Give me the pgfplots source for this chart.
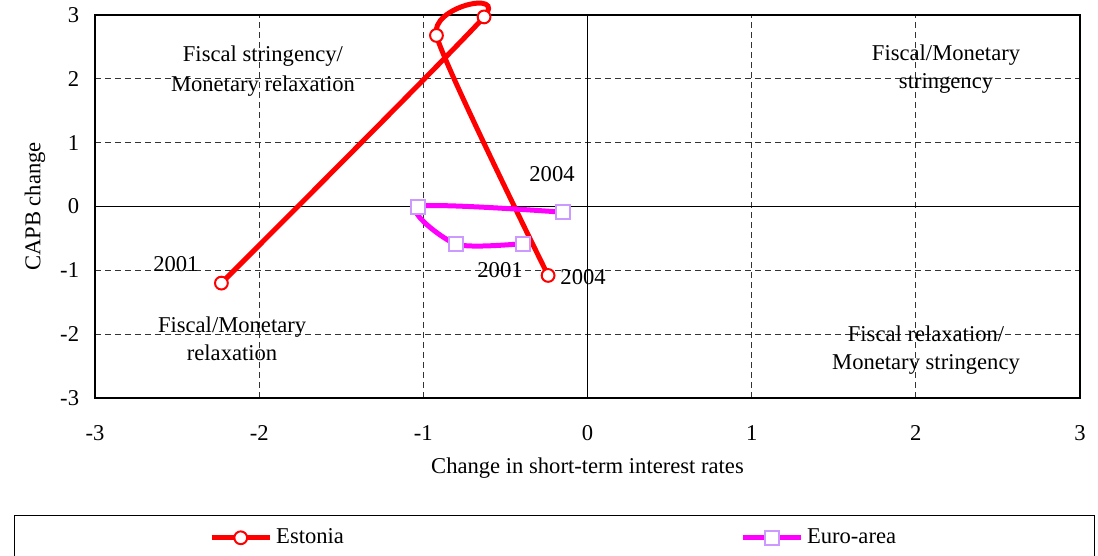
\documentclass[border=0pt]{standalone}
\usepackage{pgfplots}
\pgfplotsset{compat=1.18}
\usepackage{fontspec}
\setmainfont{Liberation Serif}
\definecolor{estred}{HTML}{FF0000}
\definecolor{euromag}{HTML}{FF00FF}
\definecolor{eurolil}{HTML}{CC99FF}
\begin{document}
\fontsize{11.3}{14}\selectfont
\begin{tikzpicture}
\begin{axis}[
    scale only axis,
    width=492.5pt, height=191.5pt,
    xmin=-3, xmax=3, ymin=-3, ymax=3,
    xtick={-3,-2,...,3}, ytick={-3,-2,...,3},
    major tick length=0pt,
    /pgf/number format/assume math mode=true,
    tick label style={font=\fontsize{11.3}{13}\selectfont},
    xticklabel style={yshift=-10pt},
    yticklabel style={xshift=-4pt},
    grid=major,
    major grid style={black!80, dash pattern=on 3pt off 2pt, line width=0.5pt},
    axis line style={black, line width=0.6pt},
    clip=false,
    xlabel={Change in short-term interest rates},
    ylabel={CAPB change},
    xlabel style={at={(axis description cs:0.5,-0.183)}, anchor=center},
    ylabel style={at={(axis description cs:-0.061,0.5)}, anchor=center, rotate=0},
    legend columns=2,
    legend style={at={(axis description cs:-0.0822,-0.3055)}, anchor=north west,
        draw=black, line width=0.6pt, inner xsep=97.3pt, inner ysep=4.5pt,
        font=\fontsize{11.3}{13}\selectfont,
        /tikz/every even column/.append style={column sep=196pt}},
    legend image code/.code={\draw[mark repeat=2,mark phase=2,#1] plot coordinates {(0pt,0pt) (14.5pt,0pt) (29pt,0pt)};},
]
\draw[black, line width=0.5pt] (axis cs:-3,0) -- (axis cs:3,0);
\draw[black, line width=0.5pt] (axis cs:0,-3) -- (axis cs:0,3);

\addplot[estred, line width=2.5pt, smooth, tension=0.4,
    mark=*, mark size=3.2pt, mark options={fill=white, draw=estred, line width=1pt}]
    coordinates {(-2.23,-1.20) (-0.63,2.97) (-0.92,2.68) (-0.24,-1.08)};
\addlegendentry{Estonia}
\addplot[euromag, line width=2.5pt, smooth, tension=0.45,
    mark=square*, mark size=3.5pt, mark options={fill=white, draw=eurolil, line width=1pt}]
    coordinates {(-0.39,-0.58) (-0.80,-0.59) (-1.03,0.00) (-0.15,-0.09)};
\addlegendentry{Euro-area}

\node[align=center] at (axis cs:-1.977,2.115) {Fiscal stringency/\\[1pt]Monetary relaxation};
\node[align=center] at (axis cs:2.184,2.16) {Fiscal/Monetary\\stringency};
\node[align=center] at (axis cs:-2.165,-2.068) {Fiscal/Monetary\\relaxation};
\node[align=center] at (axis cs:2.062,-2.256) {Fiscal relaxation/\\Monetary stringency};
\node at (axis cs:-2.507,-0.909) {2001};
\node at (axis cs:-0.216,0.501) {2004};
\node at (axis cs:-0.533,-1.003) {2001};
\node at (axis cs:-0.027,-1.112) {2004};
\end{axis}
\pgfresetboundingbox
\path (-47.5pt,-79pt) rectangle (501.5pt,199pt);
\end{tikzpicture}
\end{document}
